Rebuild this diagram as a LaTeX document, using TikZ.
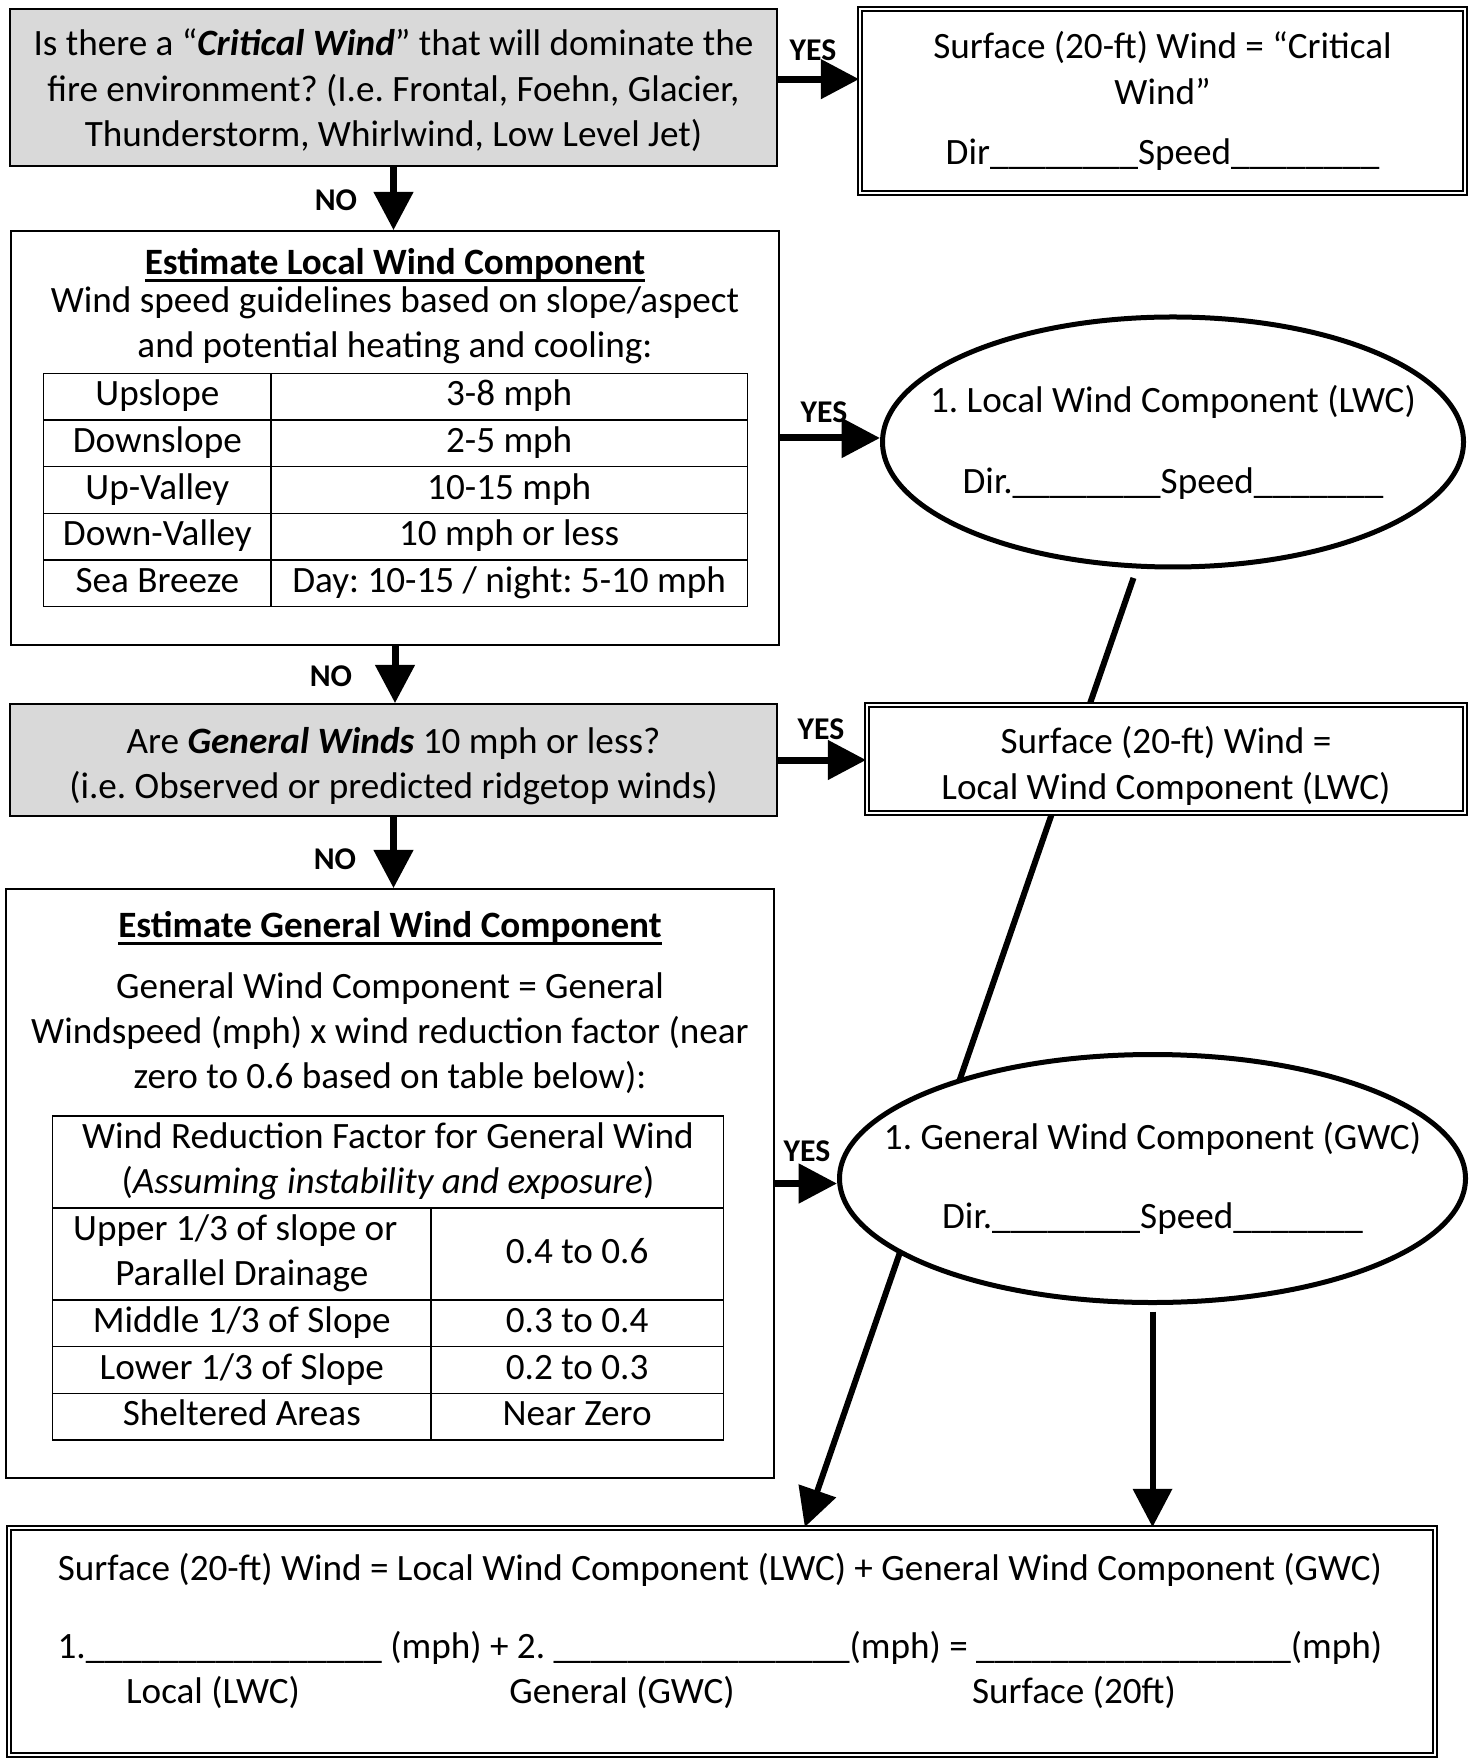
\documentclass[tikz,border=0pt]{standalone}
\usepackage{fontspec}
\setmainfont{Carlito}
\usepackage{array}
\usetikzlibrary{arrows.meta, shapes.geometric, calc, backgrounds}

\newcommand{\blank}[1]{\foreach \i in {1,...,#1}{\_}}
\newlength{\headw}
\newcommand{\heading}[1]{\settowidth{\headw}{\textbf{#1}}\textbf{#1}\hspace{-\headw}\rule[-2.4pt]{\headw}{0.9pt}}
\tikzset{wh/.style 2 args={minimum width=#1*0.3pt, minimum height=#2*0.3pt}}

\begin{document}
\begin{tikzpicture}[x=0.3pt, y=-0.3pt, font=\fontsize{11.15}{13.6}\selectfont\frenchspacing,
        >={Triangle[length=11.5pt,width=11.5pt]},
        box/.style={draw, line width=0.5pt, fill=white, inner sep=0pt},
        ask/.style={box, fill=black!15},
        result/.style={draw, line width=0.55pt, double, double distance=0.8pt, fill=white, inner sep=0pt},
        comp/.style={ellipse, draw, line width=1.5pt, fill=white, inner sep=0pt},
        flow/.style={->, line width=2.1pt},
        lead/.style={->, line width=1.8pt},
        answer/.style={font=\fontsize{9.5}{11}\selectfont\bfseries, inner sep=0pt}]

      \useasboundingbox (0,0) rectangle (1468,1758);

      \node[ask, wh={767}{157}] (q_crit) at (393.5,87.5) {};
      \node[align=center] (q_crit_txt) at (393.5,90.5)
        {Is there a “\textbf{\textit{Critical Wind}}” that will dominate the\\
         fire environment? (I.e. Frontal, Foehn, Glacier,\\
         Thunderstorm, Whirlwind, Low Level Jet)};
      \node[result, wh={605}{184}, align=center] (crit) at (1162.5,101)
        {Surface (20-ft) Wind = “Critical\\ Wind”\\[4.5pt] Dir\blank{8}Speed\blank{8}};

      \node[box, wh={768}{414}] (lwc_box) at (395,438) {};
      \node (lwc_head) at (395,265) {\heading{Estimate Local Wind Component}};
      \node[align=center] (lwc_text) at (395,325)
        {Wind speed guidelines based on slope/aspect\\ and potential heating and cooling:};
      \node (lwc_tab) at (395.5,490) {\setlength{\tabcolsep}{2pt}%
        \begin{tabular}{|>{\centering\arraybackslash}p{63.8pt}|>{\centering\arraybackslash}p{138.5pt}|}
          \hline
          Upslope & 3-8 mph \\ \hline
          Downslope & 2-5 mph \\ \hline
          Up-Valley & 10-15 mph \\ \hline
          Down-Valley & 10 mph or less \\ \hline
          Sea Breeze & Day: 10-15 / night: 5-10 mph \\ \hline
        \end{tabular}};

      \node[comp, wh={581}{250}] (lwc) at (1173,442) {};
      \node[align=center] (lwc_lbl) at (lwc) {1. Local Wind Component (LWC)\\[10.7pt] Dir.\blank{8}Speed\blank{7}};

      \node[ask, wh={767}{112}] (q_gen) at (393.5,760) {};
      \node[align=center] (q_gen_txt) at (393.5,766)
        {Are \textbf{\textit{General Winds}} 10 mph or less?\\ (i.e. Observed or predicted ridgetop winds)};
      \node[result, wh={598}{108}] (lwc_surf) at (1166,759) {};
      \node[align=center] (lwc_surf_txt) at (1166,766)
        {Surface (20-ft) Wind =\\ Local Wind Component (LWC)};

      \node[box, wh={768}{589}] (gwc_box) at (390,1183.5) {};
      \node (gwc_head) at (390,928) {\heading{Estimate General Wind Component}};
      \node[align=center] (gwc_text) at (390,1033)
        {General Wind Component = General\\ Windspeed (mph) x wind reduction factor (near\\ zero to 0.6 based on table below):};
      \node (gwc_tab) at (388,1278) {\setlength{\tabcolsep}{2pt}%
        \begin{tabular}{|>{\centering\arraybackslash}p{109.1pt}|>{\centering\arraybackslash}p{83.3pt}|}
          \hline
          \multicolumn{2}{|c|}{Wind Reduction Factor for General Wind} \\
          \multicolumn{2}{|c|}{(\textit{Assuming instability and exposure})} \\ \hline
          Upper 1/3 of slope or\newline Parallel Drainage & \raisebox{-6.8pt}[0pt][0pt]{0.4 to 0.6} \\ \hline
          Middle 1/3 of Slope & 0.3 to 0.4 \\ \hline
          Lower 1/3 of Slope & 0.2 to 0.3 \\ \hline
          Sheltered Areas & Near Zero \\ \hline
        \end{tabular}};

      \node[comp, wh={626}{248}] (gwc) at (1152.5,1178.5) {};
      \node[align=center] (gwc_lbl) at (gwc) {1. General Wind Component (GWC)\\[10.2pt] Dir.\blank{8}Speed\blank{7}};

      \node[result, wh={1426}{227}] (total) at (722,1641.5) {};
      \node (total_eq) at (720,1570)
        {Surface (20-ft) Wind = Local Wind Component (LWC) + General Wind Component (GWC)};
      \node (total_sum) at (720,1648)
        {1.\blank{16} (mph) + 2. \blank{16}(mph) = \blank{17}(mph)};
      \node (total_l) at (213,1692) {Local (LWC)};
      \node (total_g) at (622,1692) {General (GWC)};
      \node (total_s) at (1074,1692) {Surface (20ft)};
      \coordinate (lwc_in) at ($(total.north west)!0.558!(total.north east)$);

      \node[answer] (yes_1) at (813,50) {YES};
      \node[answer] (no_1) at (336,200) {NO};
      \node[answer] (yes_2) at (824,412) {YES};
      \node[answer] (no_2) at (331,676) {NO};
      \node[answer] (yes_3) at (821,729) {YES};
      \node[answer] (no_3) at (335,859) {NO};
      \node[answer] (yes_4) at (807,1151) {YES};

      \draw[flow] ([yshift=2.5pt]q_crit.east) -- ([yshift=2.5pt]q_crit.east -| crit.west);
      \draw[flow] (q_crit.south) -- (q_crit.south |- lwc_box.north);
      \draw[flow] (lwc_box.east) -- (lwc_box.east -| lwc.west);
      \draw[flow] (lwc_box.south) -- (lwc_box.south |- q_gen.north);
      \draw[flow] (q_gen.east) -- (q_gen.east -| lwc_surf.west);
      \draw[flow] (q_gen.south) -- (q_gen.south |- gwc_box.north);
      \draw[flow] (gwc_box.east) -- (gwc_box.east -| gwc.west);
      \draw[lead, shorten <=2pt] (gwc.south) -- (gwc.south |- total.north);
      \begin{pgfonlayer}{background}
        \draw[lead, shorten <=3pt] (lwc.254) -- (lwc_in);
      \end{pgfonlayer}
    \end{tikzpicture}
\end{document}
